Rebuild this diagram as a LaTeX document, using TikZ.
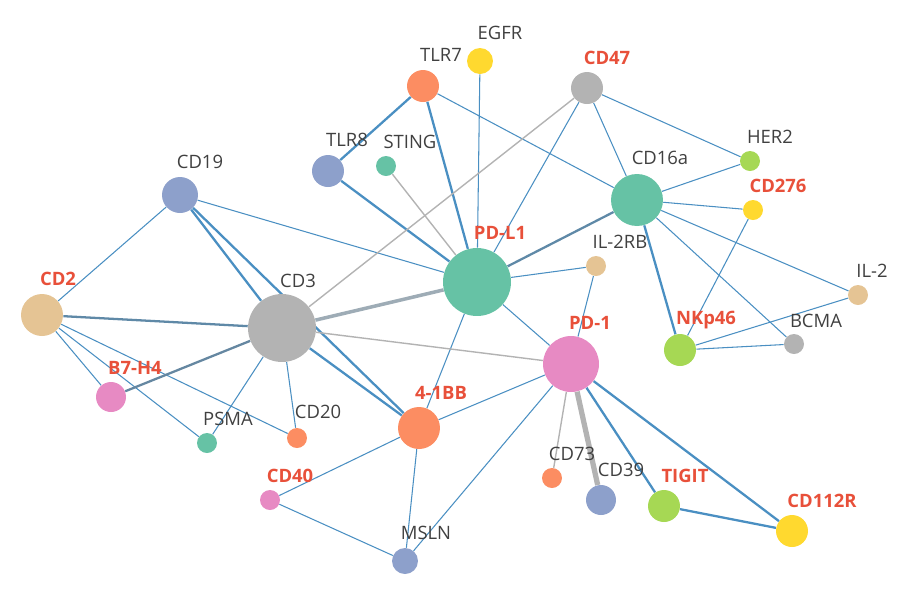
\documentclass[tikz,border=0pt]{standalone}
\usepackage{fontspec}
\setmainfont{Open Sans}
\usetikzlibrary{backgrounds}
\definecolor{cgreen}{HTML}{66C2A5}
\definecolor{corange}{HTML}{FC8D62}
\definecolor{cblue}{HTML}{8DA0CB}
\definecolor{cpink}{HTML}{E78AC3}
\definecolor{clime}{HTML}{A6D854}
\definecolor{cyellow}{HTML}{FFD92F}
\definecolor{ctan}{HTML}{E5C494}
\definecolor{cgray}{HTML}{B3B3B3}
\definecolor{link}{HTML}{4A8FC2}
\definecolor{hot}{HTML}{E8503A}
\begin{document}
\begin{tikzpicture}[x=0.02cm, y=-0.02cm,
	gene/.style 2 args={circle, fill=#2, minimum size=#1*0.04cm, inner sep=0pt},
	lab/.style={font=\fontsize{10.5}{12}\selectfont, text=black!75},
	hotlab/.style={font=\fontsize{10.5}{12}\selectfont\bfseries, text=hot},
	thin/.style={draw=link, line width=0.6pt},
	thick/.style={draw=link, line width=1.3pt},
	grey/.style={draw=cgray, line width=0.8pt},
	greythick/.style={draw=cgray!80!link, line width=2pt}]
	\useasboundingbox (0,0) rectangle (900,600);
	% draw gene nodes
	\foreach \name/\x/\y/\r/\c in {EGFR/480/61/13/cyellow, TLR7/423/86/16/corange,
		CD47/587/88/16/cgray, TLR8/328/171/16/cblue, STING/386/166/10/cgreen,
		CD19/180/195/18/cblue, HER2/750/161/10/clime, CD16a/637/200/26/cgreen,
		CD276/753/210/10/cyellow, PDL1/477/282/34/cgreen, IL2RB/596/266/10/ctan,
		IL2/858/295/10/ctan, CD2/42/315/21/ctan, CD3/282/328/34/cgray,
		NKp46/680/350/16/clime, BCMA/794/344/10/cgray, PD1/571/364/28/cpink,
		B7H4/111/397/15/cpink, PSMA/207/443/10/cgreen, CD20/297/438/10/corange,
		4BB/419/428/21/corange, CD73/552/478/10/corange, CD39/601/500/15/cblue,
		TIGIT/664/506/16/clime, CD112R/792/531/16/cyellow, CD40/270/500/10/cpink,
		MSLN/405/561/13/cblue}
	\node[gene={\r}{\c}] (\name) at (\x,\y) {};
	% draw plain labels
	\foreach \t/\x/\y in {EGFR/500/33, TLR7/441/55, TLR8/347/140, STING/410/142,
		CD19/200/162, HER2/770/137, CD16a/660/158, IL-2RB/620/242, IL-2/872/271,
		CD3/298/281, BCMA/816/321, PSMA/228/419, CD20/318/412, CD73/572/454,
		CD39/621/470, MSLN/426/533}
	\node[lab] (l\t) at (\x,\y) {\t};
	% draw highlighted labels
	\foreach \t/\x/\y in {CD47/607/58, CD276/778/186, PD-L1/500/233, CD2/58/279,
		NKp46/706/320, PD-1/590/323, B7-H4/135/368, 4-1BB/441/393, TIGIT/685/476,
		CD112R/822/501, CD40/290/476}
	\node[hotlab] (l\t) at (\x,\y) {\t};
	% draw links behind the nodes
	\begin{scope}[on background layer]
		\foreach \a/\b in {TLR7/TLR8, TLR7/PDL1, TLR8/PDL1, CD19/CD3, CD16a/NKp46,
			PD1/TIGIT, PD1/CD112R, TIGIT/CD112R, CD3/4BB, CD19/4BB}
		\draw[thick] (\a) -- (\b);
		\foreach \a/\b in {EGFR/PDL1, CD47/PDL1, CD47/CD16a, CD47/HER2, TLR7/CD16a,
			CD19/PDL1, CD19/CD2, CD16a/HER2, CD16a/CD276, CD16a/IL2, CD16a/BCMA,
			CD276/NKp46, IL2/NKp46, NKp46/BCMA, IL2RB/PDL1, IL2RB/PD1, PDL1/4BB,
			PDL1/PD1, CD2/B7H4, CD2/PSMA, CD2/CD20, CD3/PSMA, CD3/CD20, 4BB/PD1,
			4BB/CD40, 4BB/MSLN, PD1/MSLN, CD40/MSLN}
		\draw[thin] (\a) -- (\b);
		\foreach \a/\b in {CD47/CD3, STING/PDL1, CD3/PD1, PD1/CD73}
		\draw[grey] (\a) -- (\b);
		\draw[greythick] (CD3) -- (PDL1);
		\draw[draw=cgray, line width=3pt] (PD1) -- (CD39);
		\draw[draw=link!60!gray, line width=1.3pt] (CD16a) -- (PDL1);
		\draw[draw=link!60!gray, line width=1.3pt] (CD2) -- (CD3);
		\draw[draw=link!50!gray, line width=1.3pt] (B7H4) -- (CD3);
	\end{scope}
\end{tikzpicture}
\end{document}
